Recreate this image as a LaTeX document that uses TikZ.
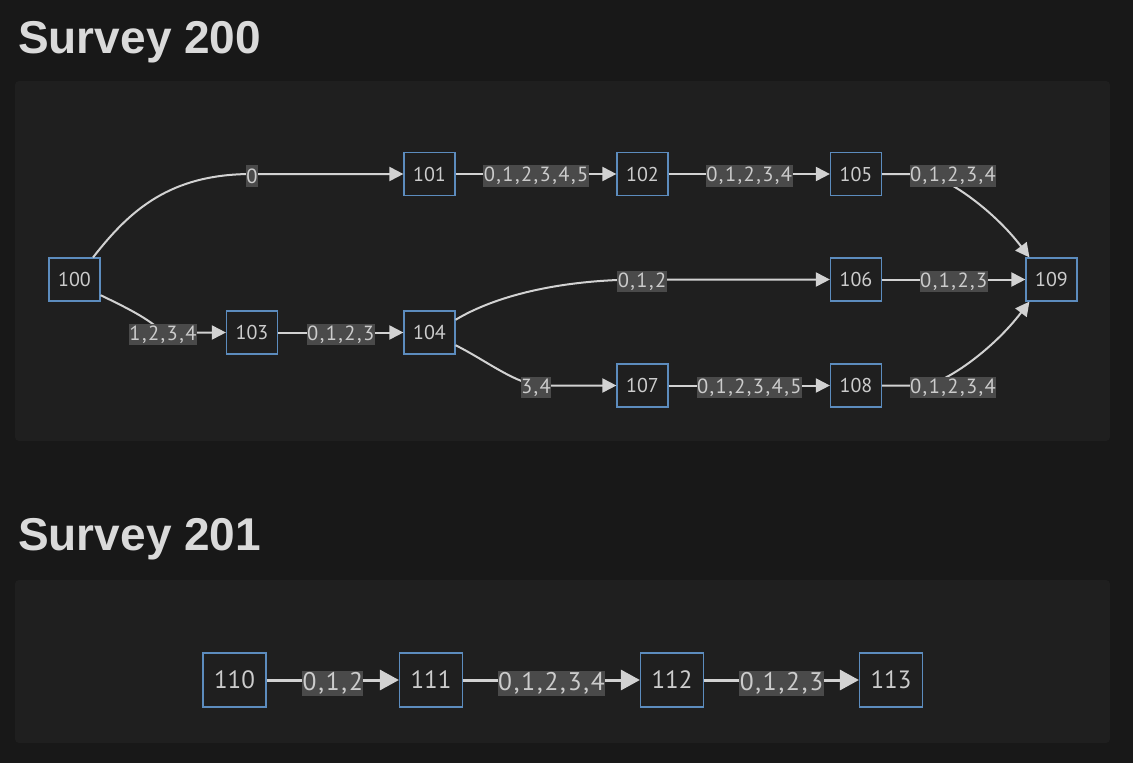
\documentclass[tikz,border=0pt]{standalone}
\usepackage{fontspec}
\usepackage{xcolor}
\usepackage{tikz}
\usetikzlibrary{arrows.meta}
\setmainfont{PT Sans}
\newfontfamily\headfont{Liberation Sans}
\newfontfamily\edgefont[LetterSpace=7]{PT Sans}
\definecolor{pagebg}{RGB}{24,24,24}
\definecolor{panelbg}{RGB}{31,31,31}
\definecolor{boxblue}{RGB}{92,140,190}
\definecolor{linegrey}{RGB}{210,210,210}
\definecolor{labelbg}{RGB}{74,74,74}
\definecolor{textgrey}{RGB}{204,204,204}
\definecolor{headgrey}{RGB}{218,218,218}

\tikzset{
  box/.style={draw=boxblue, line width=1.2pt, fill=panelbg, text=textgrey, minimum width=51pt, minimum height=43pt, inner sep=0pt, font=\fontsize{20}{20}\selectfont},
  bigbox/.style={box, minimum width=63pt, minimum height=54pt, font=\fontsize{25}{25}\selectfont},
  edge/.style={draw=linegrey, line width=2pt, -{Triangle[length=14pt,width=14pt]}},
  bigedge/.style={edge, line width=3pt, -{Triangle[length=19pt,width=20pt]}},
  lbl/.style={fill=labelbg, text=textgrey, inner xsep=0.5pt, inner ysep=0pt, minimum height=21.5pt, yshift=-2pt, font=\edgefont\fontsize{20.5}{20.5}\selectfont},
  biglbl/.style={lbl, minimum height=25pt, yshift=-1pt, font=\edgefont\fontsize{25.5}{25.5}\selectfont},
  heading/.style={anchor=base west, inner sep=0pt, text=headgrey, font=\headfont\bfseries\fontsize{46}{46}\selectfont},
}

\begin{document}
\begin{tikzpicture}[x=1pt, y=-1pt]
        % page and panels
        \fill[pagebg] (0,0) rectangle (1133,763);
        \useasboundingbox (0,0) rectangle (1133,763);
        \fill[panelbg, rounded corners=4pt] (15,81) rectangle (1110,441);
        \fill[panelbg, rounded corners=4pt] (15,580) rectangle (1110,743);
        \node[heading] (title200) at (18,53) {Survey 200};
        \node[heading] (title201) at (18,550) {Survey 201};

        % survey 200
        \node[box] (n100) at (74.5,279.5) {100};
        \node[box] (n101) at (429.5,174) {101};
        \node[box] (n102) at (642.5,174) {102};
        \node[box] (n105) at (856,174) {105};
        \node[box] (n103) at (252,332.5) {103};
        \node[box] (n104) at (429.5,332.5) {104};
        \node[box] (n106) at (856,279.5) {106};
        \node[box] (n109) at (1051.5,279.5) {109};
        \node[box] (n107) at (642.5,385.5) {107};
        \node[box] (n108) at (856,385.5) {108};

        \draw[edge] (n100.50) .. controls (130,210) and (170,174) .. (252,174) node[lbl] {0} -- (n101);
        \draw[edge] (n100.-31) .. controls (125,307) and (148,318) .. (163,332.5) node[lbl] {1,2,3,4} -- (n103);
        \draw[edge] (n101) -- node[lbl] {0,1,2,3,4,5} (n102);
        \draw[edge] (n102) -- node[lbl] {0,1,2,3,4} (n105);
        \draw[edge] (n103) -- node[lbl] {0,1,2,3} (n104);
        \draw[edge] (n104.26) .. controls (495,296) and (560,279.5) .. (642,279.5) node[lbl] {0,1,2} -- (n106);
        \draw[edge] (n104.-26) .. controls (485,360) and (510,380) .. (536,385.5) node[lbl] {3,4} -- (n107);
        \draw[edge] (n106) -- node[lbl] {0,1,2,3} (n109);
        \draw[edge] (n107) -- node[lbl] {0,1,2,3,4,5} (n108);
        \draw[edge] (n105) -- (922,174) .. controls (942,174) and (992,208) .. (n109.135)
            node[lbl, at={(953,174)}] {0,1,2,3,4};
        \draw[edge] (n108) -- (922,385.5) .. controls (942,385.5) and (992,351) .. (n109.-135)
            node[lbl, at={(953,385.5)}] {0,1,2,3,4};

        % survey 201
        \node[bigbox] (n110) at (234.5,680) {110};
        \node[bigbox] (n111) at (431,680) {111};
        \node[bigbox] (n112) at (672,680) {112};
        \node[bigbox] (n113) at (891,680) {113};

        \draw[bigedge] (n110) -- node[biglbl] {0,1,2} (n111);
        \draw[bigedge] (n111) -- node[biglbl] {0,1,2,3,4} (n112);
        \draw[bigedge] (n112) -- node[biglbl] {0,1,2,3} (n113);
    \end{tikzpicture}
\end{document}
